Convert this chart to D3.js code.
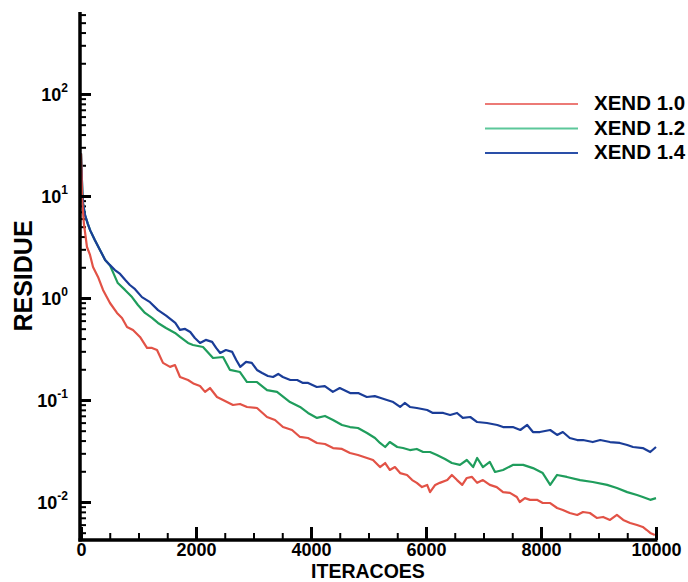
<!DOCTYPE html>
<html>
<head>
<meta charset="utf-8">
<script src="https://cdn.jsdelivr.net/npm/d3@7"></script>
<style>
  html, body { margin: 0; padding: 0; background: #fff; }
  svg { display: block; font-family: "Liberation Sans", Arial, sans-serif; }
</style>
</head>
<body>
<svg id="chart" width="688" height="582"></svg>
<script>
// tick labels
const iterTicks = [0, 2000, 4000, 6000, 8000, 10000];
const residueExponents = [-2, -1, 0, 1, 2];
const seriesNames = ["XEND 1.0", "XEND 1.2", "XEND 1.4"];

// XEND 1.0 (red)
const iterXend10 = [0,20,50,104,157,209,296,383,504,626,713,800,904,1026,1148,1235,1322,1426,1548,1635,1722,1861,1965,2070,2157,2243,2365,2470,2643,2765,2887,3061,3235,3374,3513,3670,3809,3948,4104,4243,4383,4539,4678,4817,4974,5078,5200,5290,5370,5460,5550,5670,5760,5840,5930,6020,6070,6160,6240,6370,6450,6540,6630,6710,6800,6890,6990,7110,7230,7340,7460,7580,7630,7720,7810,7930,8030,8160,8280,8380,8500,8630,8730,8850,8970,9080,9200,9320,9430,9550,9670,9770,9840,9900,9980];
const resXend10 = [26,9,5.4,3.16,2.64,2.01,1.61,1.20,0.893,0.713,0.637,0.520,0.486,0.415,0.324,0.324,0.309,0.231,0.211,0.220,0.168,0.157,0.144,0.137,0.120,0.131,0.107,0.100,0.0893,0.0914,0.0854,0.0835,0.0681,0.0637,0.0543,0.0508,0.0434,0.0424,0.0379,0.0370,0.0338,0.0331,0.0302,0.0289,0.0270,0.0258,0.0220,0.0241,0.0206,0.0220,0.0192,0.0184,0.0164,0.0154,0.0140,0.0147,0.0125,0.0147,0.0154,0.0164,0.0184,0.0164,0.0147,0.0172,0.0176,0.0154,0.0164,0.0147,0.0140,0.0125,0.0123,0.0112,0.0100,0.0109,0.0105,0.0105,0.00977,0.00977,0.00873,0.00835,0.00780,0.00746,0.00798,0.00780,0.00697,0.00713,0.00667,0.00746,0.00667,0.00623,0.00595,0.00569,0.00531,0.00497,0.00475];

// XEND 1.2 (green)
const iterXend12 = [0,25,35,70,120,160,240,330,420,500,640,765,887,990,1113,1235,1339,1478,1635,1722,1861,1948,2122,2296,2470,2591,2765,2887,3061,3235,3409,3635,3809,3948,4104,4243,4383,4539,4678,4817,4974,5113,5200,5290,5370,5500,5600,5720,5840,5950,6070,6190,6330,6450,6590,6710,6820,6890,6990,7110,7200,7340,7510,7690,7860,8030,8160,8280,8450,8680,8900,9150,9320,9500,9670,9770,9900,10000];
const resXend12 = [26,10.2,8.5,6.5,5.3,4.6,3.7,2.96,2.36,2.11,1.40,1.20,1.02,0.854,0.713,0.637,0.569,0.508,0.454,0.415,0.362,0.346,0.331,0.258,0.264,0.197,0.188,0.150,0.150,0.125,0.120,0.0955,0.0854,0.0746,0.0667,0.0697,0.0637,0.0569,0.0543,0.0531,0.0475,0.0424,0.0379,0.0346,0.0387,0.0346,0.0338,0.0323,0.0331,0.0309,0.0309,0.0289,0.0264,0.0241,0.0231,0.0258,0.0220,0.0270,0.0220,0.0247,0.0197,0.0206,0.0231,0.0231,0.0215,0.0192,0.0147,0.0184,0.0176,0.0164,0.0157,0.0147,0.0137,0.0125,0.0117,0.0112,0.0105,0.0109];

// XEND 1.4 (blue)
const iterXend14 = [0,25,35,70,120,160,240,330,420,500,590,680,770,850,940,1060,1200,1340,1480,1640,1720,1810,1900,1980,2070,2170,2280,2350,2420,2520,2630,2700,2770,2870,2970,3060,3150,3250,3340,3430,3510,3640,3760,3860,3950,4100,4240,4380,4500,4680,4820,4970,5110,5200,5320,5430,5550,5630,5720,5840,6020,6120,6300,6420,6540,6640,6770,6890,7060,7240,7340,7510,7640,7760,7860,7980,8160,8280,8380,8500,8630,8730,8900,9030,9200,9370,9500,9600,9770,9900,10000];
const resXend14 = [26,10.2,8.5,6.5,5.3,4.6,3.7,2.96,2.36,2.11,1.88,1.72,1.50,1.34,1.22,1.02,0.91,0.76,0.67,0.57,0.486,0.497,0.464,0.405,0.362,0.388,0.371,0.324,0.289,0.309,0.296,0.247,0.211,0.236,0.231,0.197,0.184,0.172,0.168,0.180,0.168,0.157,0.157,0.147,0.147,0.134,0.137,0.120,0.131,0.117,0.117,0.107,0.109,0.105,0.100,0.0955,0.0854,0.0935,0.0854,0.0835,0.0798,0.0746,0.0746,0.0713,0.0746,0.0667,0.0681,0.0608,0.0595,0.0569,0.0543,0.0543,0.0508,0.0569,0.0485,0.0485,0.0508,0.0454,0.0485,0.0424,0.0405,0.0405,0.0387,0.0405,0.0387,0.0379,0.0362,0.0346,0.0338,0.0309,0.0346];

const colors = ["#e25246", "#1f9d5c", "#1a3d98"];
const legendColors = ["#ec7a76", "#5cc79a", "#2a4fa8"];

const series = [
  {name: seriesNames[0], color: colors[0], points: d3.zip(iterXend10, resXend10)},
  {name: seriesNames[1], color: colors[1], points: d3.zip(iterXend12, resXend12)},
  {name: seriesNames[2], color: colors[2], points: d3.zip(iterXend14, resXend14)}
];

const svg = d3.select("#chart");
const x = d3.scaleLinear().domain([0, 10000]).range([81, 656]);
const y = d3.scaleLog().domain([0.00424, 622]).range([540, 13]);

// minor ticks
const yMinor = [];
for (let e = -3; e <= 2; e++) {
  for (let m = 2; m <= 9; m++) {
    const v = m * Math.pow(10, e);
    if (v >= y.domain()[0] && v <= y.domain()[1]) yMinor.push(v);
  }
}
const xMinor = d3.range(0, 10001, 500).filter(v => v % 2000 !== 0);

svg.append("g")
    .attr("transform", "translate(80,0)")
    .call(d3.axisLeft(y).tickValues(yMinor).tickSize(-6).tickFormat(""))
    .call(g => g.select(".domain").remove())
    .call(g => g.selectAll(".tick line").attr("stroke", "#000").attr("stroke-width", 2));

svg.append("g")
    .attr("transform", "translate(0,540)")
    .call(d3.axisBottom(x).tickValues(xMinor).tickSize(-7).tickFormat(""))
    .call(g => g.select(".domain").remove())
    .call(g => g.selectAll(".tick line").attr("stroke", "#000").attr("stroke-width", 2));

// curves
const line = d3.line()
    .x(d => x(d[0]))
    .y(d => y(d[1]));

svg.append("g")
    .attr("fill", "none")
    .attr("stroke-width", 2.2)
    .attr("stroke-linejoin", "round")
  .selectAll("path")
  .data([series[1], series[2], series[0]])
  .join("path")
    .attr("stroke", d => d.color)
    .attr("d", d => line(d.points));

// major ticks + labels
const yMajor = residueExponents.map(e => Math.pow(10, e));
const yAxis = svg.append("g")
    .attr("transform", "translate(80,0)")
    .call(d3.axisLeft(y).tickValues(yMajor).tickSize(-11).tickPadding(12))
    .call(g => g.select(".domain").remove())
    .call(g => g.selectAll(".tick line").attr("stroke", "#000").attr("stroke-width", 3));

yAxis.selectAll(".tick text")
    .attr("fill", "#000")
    .attr("font-size", 18)
    .attr("font-weight", "bold")
    .attr("font-family", "'Liberation Sans', Arial, sans-serif")
    .attr("dy", "0.38em")
    .text(null)
    .each(function(d, i) {
      const t = d3.select(this);
      t.append("tspan").text("10");
      t.append("tspan")
          .attr("font-size", 12)
          .attr("dy", "-0.75em")
          .text(residueExponents[i]);
    });

const xAxis = svg.append("g")
    .attr("transform", "translate(0,540)")
    .call(d3.axisBottom(x).tickValues(iterTicks).tickSize(-13).tickPadding(3).tickFormat(d3.format("d")))
    .call(g => g.select(".domain").remove())
    .call(g => g.selectAll(".tick line").attr("stroke", "#000").attr("stroke-width", 3));

xAxis.selectAll(".tick text")
    .attr("fill", "#000")
    .attr("font-size", 18)
    .attr("font-weight", "bold")
    .attr("font-family", "'Liberation Sans', Arial, sans-serif");

// axis lines
svg.append("line")
    .attr("x1", 80).attr("x2", 80)
    .attr("y1", 12).attr("y2", 541.5)
    .attr("stroke", "#000").attr("stroke-width", 3.5);
svg.append("line")
    .attr("x1", 78.5).attr("x2", 657.5)
    .attr("y1", 540).attr("y2", 540)
    .attr("stroke", "#000").attr("stroke-width", 3.5);

// axis titles
svg.append("text")
    .attr("x", 368)
    .attr("y", 577.5)
    .attr("text-anchor", "middle")
    .attr("font-size", 19.5)
    .attr("font-weight", "bold")
    .text("ITERACOES");

svg.append("text")
    .attr("transform", "translate(32,276) rotate(-90)")
    .attr("text-anchor", "middle")
    .attr("font-size", 25)
    .attr("font-weight", "bold")
    .text("RESIDUE");

// legend
const legend = svg.append("g")
  .selectAll("g")
  .data(series)
  .join("g")
    .attr("transform", (d, i) => `translate(0,${104 + i * 24.5})`);

legend.append("line")
    .attr("x1", 485).attr("x2", 578)
    .attr("stroke", (d, i) => legendColors[i])
    .attr("stroke-width", 2);

legend.append("text")
    .attr("x", 594)
    .attr("y", 6)
    .attr("font-size", 20.5)
    .attr("font-weight", "bold")
    .text(d => d.name);
</script>
</body>
</html>
